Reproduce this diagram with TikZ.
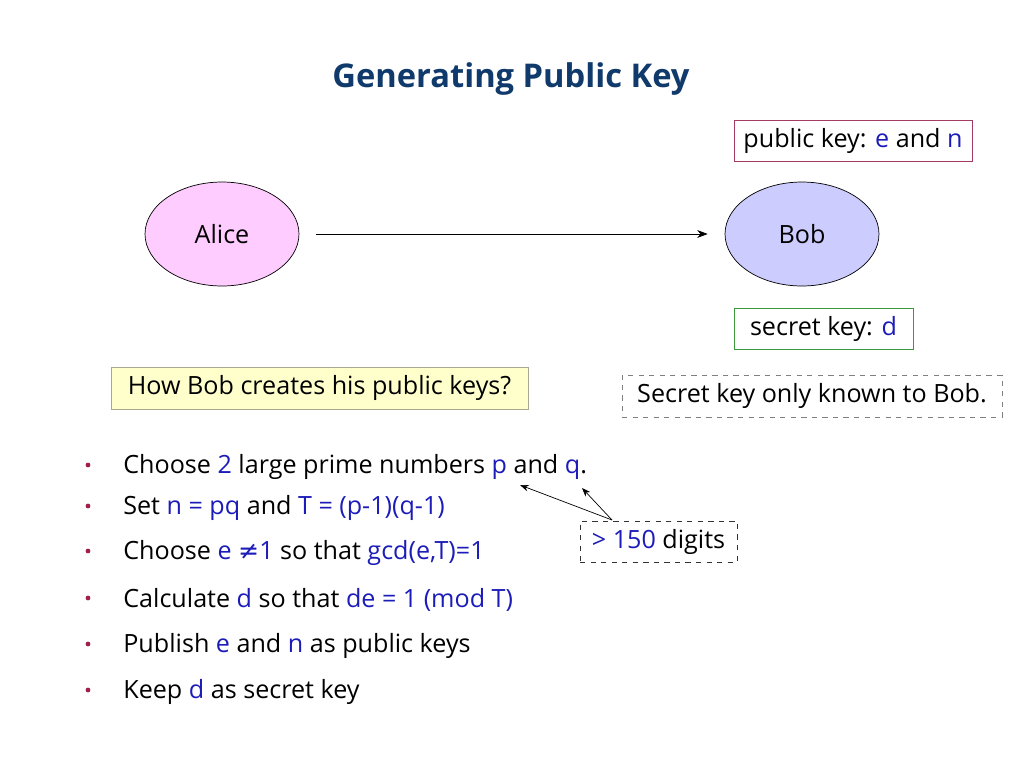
\documentclass[tikz,border=0pt]{standalone}
\usepackage{fontspec}
\setmainfont{Open Sans}
\newfontfamily\symfont{DejaVu Sans}
\usetikzlibrary{shapes.geometric,arrows.meta}

\definecolor{titleblue}{HTML}{103A6B}
\definecolor{keyblue}{HTML}{1C1CB8}
\definecolor{alicepink}{HTML}{FFCCFF}
\definecolor{bobblue}{HTML}{CCCCFF}
\definecolor{pubred}{HTML}{A33B63}
\definecolor{secgreen}{HTML}{3A9A3A}
\definecolor{noteyellow}{HTML}{FFFFCC}
\definecolor{noteedge}{HTML}{A8A890}
\definecolor{bulletred}{HTML}{A0204A}
\newcommand{\kb}[1]{\textcolor{keyblue}{#1}}

\tikzset{
  party/.style={ellipse,draw=black,thin,minimum width=3.08cm,minimum height=2.08cm},
  keybox/.style={draw,thin,inner sep=0pt,minimum height=0.82cm},
  txt/.style={anchor=west,inner sep=0pt,yshift=-0.04cm},
  bodyfont/.style={font=\fontsize{14.3}{17}\selectfont}
}

\begin{document}
\begin{tikzpicture}[x=0.02cm,y=-0.02cm,bodyfont]
  \useasboundingbox (0,0) rectangle (1024,768);
  \node[text=titleblue,font=\fontsize{18.6}{22}\selectfont\bfseries] (title) at (511,79) {Generating Public Key};
  % public / secret keys of Bob
  \node[keybox,draw=pubred,minimum width=4.76cm] (pub) at (853,140.5) {public key: \kb{e} and \kb{n}};
  \node[keybox,draw=secgreen,minimum width=3.58cm] (sec) at (823.5,328.5) {secret key: \kb{d}};
  % parties
  \node[party,fill=alicepink] (alice) at (222,234) {Alice};
  \node[party,fill=bobblue] (bob) at (802,234) {Bob};
  \draw[-{Stealth[length=6pt]}] ([xshift=0.34cm]alice.east) -- ([xshift=-0.34cm]bob.west);
  % notes
  \node[keybox,draw=noteedge,fill=noteyellow,minimum width=8.34cm,minimum height=0.84cm] (how) at (319.5,388) {How Bob creates his public keys?};
  \node[keybox,draw=gray,dashed,minimum width=7.6cm,minimum height=0.84cm] (known) at (812,396) {Secret key only known to Bob.};
  % steps
  \foreach \y in {465,506,551,598,644,690}
    \fill[bulletred] (88,\y) circle (2.4);
  \node[txt] (s1) at (123,465) {Choose \kb{2} large prime numbers \kb{p} and \kb{q}.};
  \node[txt] (s2) at (123,506) {Set \kb{n = pq} and \kb{T = (p-1)(q-1)}};
  \node[txt] (s3) at (123,551) {Choose \kb{e {\symfont ≠}1} so that \kb{gcd(e,T)=1}};
  \node[txt] (s4) at (123,598) {Calculate \kb{d} so that \kb{de = 1 (mod T)}};
  \node[txt] (s5) at (123,644) {Publish \kb{e} and \kb{n} as public keys};
  \node[txt] (s6) at (123,690) {Keep \kb{d} as secret key};
  % size of p and q
  \node[keybox,draw=black!80,dashed,minimum width=3.14cm] (digits) at (658.5,541.5) {\kb{> 150} digits};
  \coordinate (pp) at (520,485);
  \coordinate (qq) at (582,488);
  \coordinate (from) at (612,520);
  \draw[-{Stealth[length=5pt]}] (from) -- (pp);
  \draw[-{Stealth[length=5pt]}] (from) -- (qq);
\end{tikzpicture}
\end{document}
